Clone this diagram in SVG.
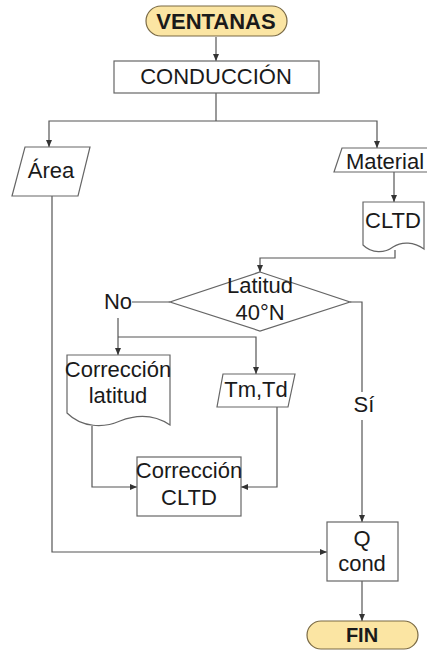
<svg xmlns="http://www.w3.org/2000/svg" width="427" height="650" viewBox="0 0 427 650">
<defs>
<marker id="ah" markerWidth="8" markerHeight="8" refX="7" refY="4" orient="auto" markerUnits="userSpaceOnUse"><path d="M0,1 L7,4 L0,7 Z" fill="#333"/></marker>
<style>
.s{fill:#fff;stroke:#666;stroke-width:1.2}
.y{fill:#fbe5a3;stroke:#7a6a45;stroke-width:1.2}
text{font-family:"Liberation Sans",Arial,sans-serif;font-size:22px;fill:#1a1a1a;text-anchor:middle}
.b{font-weight:bold}
.c{fill:none;stroke:#555;stroke-width:1.2}
.a{marker-end:url(#ah)}
</style>
</defs>
<rect width="427" height="650" fill="#fff"/>
<g id="connectors">
<path class="c a" d="M216,37 V61"/>
<path class="c" d="M216,93 V121"/>
<path class="c a" d="M216,121 H49 V147"/>
<path class="c a" d="M216,121 H377 V148"/>
<path class="c a" d="M394,172 V202"/>
<path class="c a" d="M395,250 V258 H260 V272"/>
<path class="c" d="M170,302 H132"/>
<path class="c a" d="M118,318 V355"/>
<path class="c a" d="M118,337 H256 V374"/>
<path class="c" d="M350,302 H362 V392"/>
<path class="c a" d="M362,420 V522"/>
<path class="c a" d="M92,426 V487 H137"/>
<path class="c a" d="M277,407 V487 H241"/>
<path class="c a" d="M52,196 V552 H327"/>
<path class="c a" d="M362,581 V621"/>
</g>
<g id="ventanas"><rect class="y" x="146" y="6" width="141" height="30" rx="15"/><text class="b" x="216" y="29">VENTANAS</text></g>
<g id="conduccion"><rect class="s" x="114" y="61" width="205" height="32"/><text x="216" y="84">CONDUCCIÓN</text></g>
<g id="area"><polygon class="s" points="25,147 90,147 78,196 12,196"/><text x="51" y="178">Área</text></g>
<g id="material"><polygon class="s" points="342,148 432,148 432,172 334,172"/><text x="385" y="169">Material</text></g>
<g id="cltd"><path class="s" d="M363,202 H424 V249 C414,242 402,241 393,247 C385,253 372,254 363,245 Z"/><text x="393" y="228">CLTD</text></g>
<g id="latitud"><polygon class="s" points="260,272 350,302 260,331 170,302"/><text x="260" y="293">Latitud</text><text x="260" y="320">40°N</text></g>
<g id="no-label"><text x="118" y="309">No</text></g>
<g id="si-label"><text x="364" y="412">Sí</text></g>
<g id="correccion-latitud"><path class="s" d="M67,355 H170 V425 C155,415 138,414 120,421 C104,428 82,428 67,413 Z"/><text x="118" y="377">Corrección</text><text x="118" y="403">latitud</text></g>
<g id="tmtd"><polygon class="s" points="223,374 295,374 288,407 217,407"/><text x="256" y="397">Tm,Td</text></g>
<g id="correccion-cltd"><rect class="s" x="137" y="457" width="104" height="59"/><text x="189" y="478">Corrección</text><text x="189" y="505">CLTD</text></g>
<g id="qcond"><rect class="s" x="327" y="522" width="71" height="59"/><text x="362" y="546">Q</text><text x="362" y="571">cond</text></g>
<g id="fin"><rect class="y" x="307" y="621" width="111" height="28" rx="14"/><text class="b" x="362" y="642" style="font-size:20px">FIN</text></g>
</svg>
